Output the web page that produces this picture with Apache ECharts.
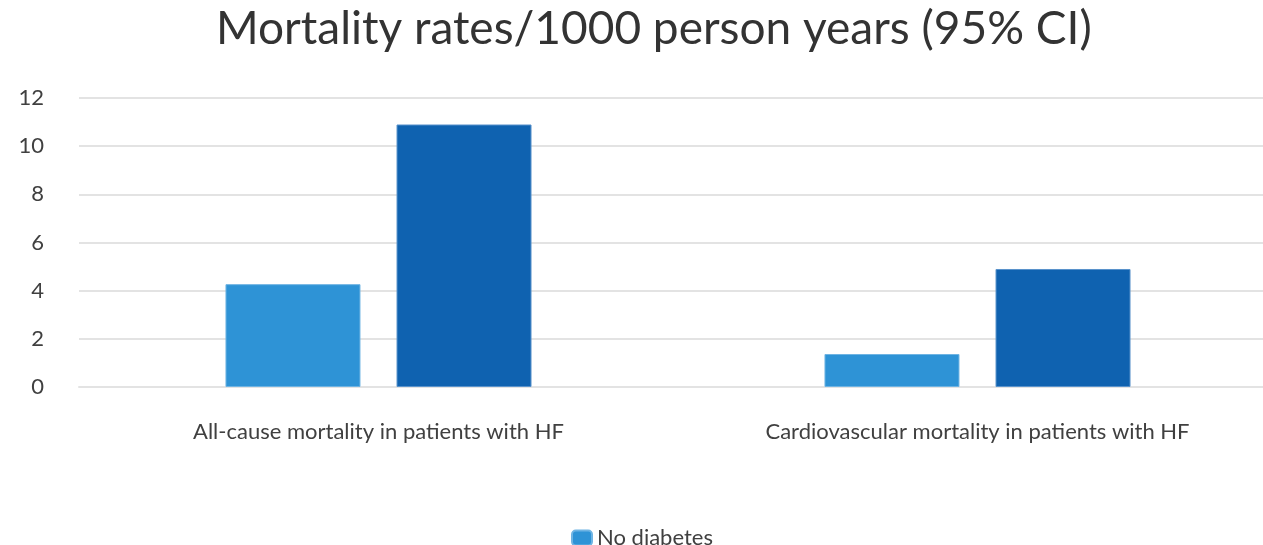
<!DOCTYPE html>
<html><head><meta charset="utf-8">
<script src="https://cdn.jsdelivr.net/npm/echarts@6/dist/echarts.min.js"></script>
<style>html,body{margin:0;padding:0;background:#fff}#c{width:1263px;height:545px}</style>
</head><body><div id="c"></div>
<script>
const titleText = "Mortality rates/1000 person years (95% CI)";
const categories = ["All-cause mortality in patients with HF", "Cardiovascular mortality in patients with HF"];
const seriesNames = ["No diabetes", "Diabetes"];
const seriesA = [4.27, 1.37];
const seriesB = [10.9, 4.9];
const yTicks = [0, 2, 4, 6, 8, 10, 12];

const chart = echarts.init(document.getElementById('c'), null, {renderer: 'canvas'});
chart.setOption({
  animation: false,
  title: {
    text: titleText, left: 211, top: 1,
    textStyle: {fontFamily: 'Lato', fontSize: 46, fontWeight: 'normal', color: '#333333'}
  },
  legend: {
    data: seriesNames, orient: 'vertical', left: 566, top: 522, height: 200,
    itemWidth: 20, itemHeight: 15, itemGap: 20,
    textStyle: {fontFamily: 'Lato', fontSize: 22, color: '#404040'}
  },
  grid: {left: 79, width: 1198, top: 98, height: 289, containLabel: false, outerBoundsMode: 'none'},
  xAxis: {
    type: 'category', data: categories,
    axisLine: {lineStyle: {color: '#e3e3e3', width: 2}},
    axisTick: {show: false},
    axisLabel: {margin: 34, fontFamily: 'Lato', fontSize: 22, color: '#404040', interval: 0}
  },
  yAxis: {
    type: 'value', min: yTicks[0], max: yTicks[yTicks.length - 1], interval: 2,
    axisLine: {show: false}, axisTick: {show: false},
    splitLine: {lineStyle: {color: '#e3e3e3', width: 2}},
    axisLabel: {margin: 35, fontFamily: 'Lato', fontSize: 22, color: '#404040'}
  },
  series: [
    {name: seriesNames[0], type: 'bar', data: seriesA, barWidth: 135, barGap: '26.7%',
     itemStyle: {color: '#2E93D6', borderColor: '#6FB4E3', borderWidth: 1}},
    {name: seriesNames[1], type: 'bar', data: seriesB, barWidth: 135,
     itemStyle: {color: '#0F62B0', borderColor: '#5A93CC', borderWidth: 1}}
  ]
});
</script></body></html>
